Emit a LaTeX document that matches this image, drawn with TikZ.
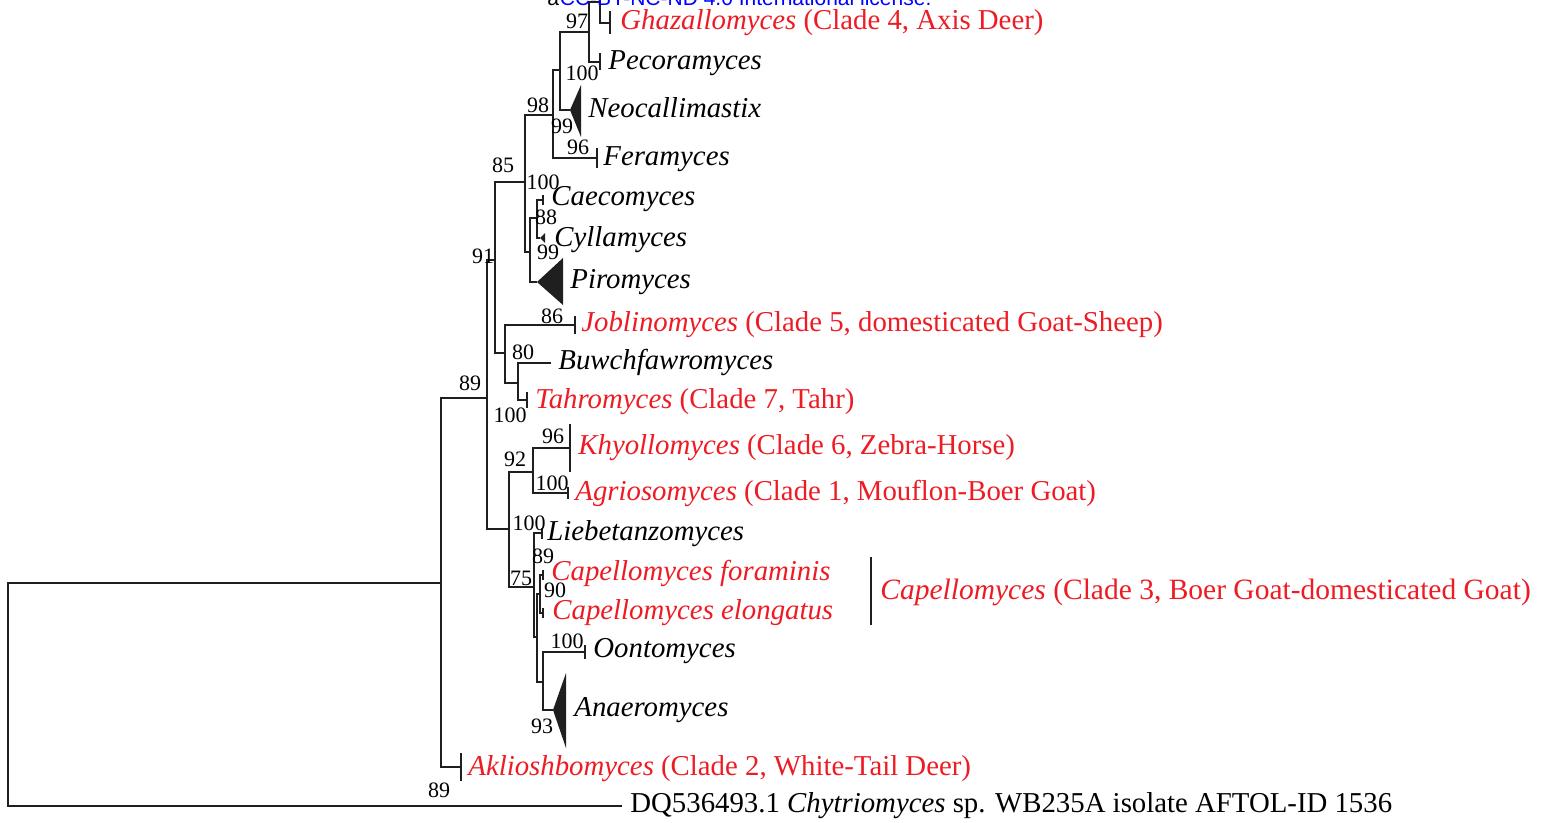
\documentclass[tikz,border=0pt]{standalone}
\usepackage{fontspec}
\setmainfont{Liberation Serif}
\newfontfamily\wmfont{Liberation Sans}
\usetikzlibrary{positioning}
\definecolor{cladered}{RGB}{237,28,36}
\definecolor{wmblue}{RGB}{0,0,255}

\begin{document}
\begin{tikzpicture}[x=0.5pt,y=-0.5pt]
	\tikzset{branch/.style={line width=1pt,draw=black!88}}
	\tikzset{clade/.style={fill=black!88}}
	\tikzset{taxon/.style={anchor=base west,inner sep=0pt,font=\fontsize{14.4}{16}\selectfont}}
	\tikzset{redtaxon/.style={taxon,text=cladered}}
	\tikzset{boot/.style={inner sep=0pt,font=\fontsize{11}{12}\selectfont}}
	\useasboundingbox (0,0) rectangle (1542,823);
	% internal nodes
	\coordinate (r) at (8,694);
	\coordinate (nA) at (441,583);
	\coordinate (nB) at (487,398);
	\coordinate (nC) at (495,260);
	\coordinate (nD) at (525,182);
	\coordinate (nE) at (553,115);
	\coordinate (nF) at (560,70);
	\coordinate (nG) at (589,32);
	\coordinate (nH) at (600,2);
	\coordinate (nP) at (530,252);
	\coordinate (nQ) at (537,218);
	\coordinate (nJ) at (505,353);
	\coordinate (nK) at (518,383);
	\coordinate (nL) at (509,529);
	\coordinate (nM) at (533,472);
	\coordinate (nN) at (534,587);
	\coordinate (nO) at (537,637);
	\coordinate (nS) at (540,594);
	\coordinate (nT) at (543,682);
	% tips
	\coordinate (cTop) at (600,-1);
	\coordinate (tGha) at (610,23);
	\coordinate (tPec) at (600,62);
	\coordinate (tNeo) at (570,110);
	\coordinate (tFer) at (597,158);
	\coordinate (tCae) at (543,200);
	\coordinate (tCyl) at (540,238);
	\coordinate (tPir) at (537,282);
	\coordinate (tJob) at (575,325);
	\coordinate (tBuw) at (551,363);
	\coordinate (tTah) at (527,400);
	\coordinate (tKhy) at (570,448);
	\coordinate (tAgr) at (568,493);
	\coordinate (tLie) at (542,533);
	\coordinate (tCfo) at (543,575);
	\coordinate (tCel) at (543,613);
	\coordinate (tOon) at (585,652);
	\coordinate (tAna) at (553,710);
	\coordinate (tAkl) at (461,767);
	\coordinate (tOut) at (622,806);
	% branches
	\foreach \p/\c in {r/nA,r/tOut,nA/nB,nA/tAkl,nB/nC,nB/nL,nC/nD,nC/nJ,
		nD/nE,nD/nP,nE/nF,nE/tFer,nF/nG,nF/tNeo,nG/nH,nG/tPec,nH/cTop,nH/tGha,
		nP/nQ,nP/tPir,nQ/tCae,nQ/tCyl,nJ/tJob,nJ/nK,nK/tBuw,nK/tTah,
		nL/nM,nL/nN,nM/tKhy,nM/tAgr,nN/tLie,nN/nO,nO/nS,nO/nT,
		nS/tCfo,nS/tCel,nT/tOon,nT/tAna}
		\draw[branch] (\p) |- (\c);
	\foreach \t/\h in {tGha/11.5,tPec/8.5,tFer/10,tCae/5,tJob/9,tTah/8,tKhy/24,
		tAgr/6,tLie/5.5,tCfo/5,tCel/5,tOon/7,tAkl/14}
		\draw[branch] (\t) ++(0,-\h) -- ++(0,2*\h);
	% collapsed clades
	\fill[clade] (tNeo) -- ++(11,-25) -- ++(0,52) -- cycle;
	\fill[clade] (tCyl) -- ++(5,-5) -- ++(0,10) -- cycle;
	\fill[clade] (tPir) -- ++(26,-24) -- ++(0,47) -- cycle;
	\fill[clade] (tAna) -- ++(13,-37) -- ++(0,75) -- cycle;
	% taxa
	\node[redtaxon] (lGha) at (620,29.5) {\textit{Ghazallomyces} (Clade 4, Axis Deer)};
	\node[taxon] (lPec) at (608,69.5) {\textit{Pecoramyces}};
	\node[taxon] (lNeo) at (588,117.5) {\textit{Neocallimastix}};
	\node[taxon] (lFer) at (603,165.5) {\textit{Feramyces}};
	\node[taxon] (lCae) at (551,205.5) {\textit{Caecomyces}};
	\node[taxon] (lCyl) at (554,246.5) {\textit{Cyllamyces}};
	\node[taxon] (lPir) at (570,288.5) {\textit{Piromyces}};
	\node[redtaxon] (lJob) at (581,331.5) {\textit{Joblinomyces} (Clade 5, domesticated Goat-Sheep)};
	\node[taxon] (lBuw) at (558,369.5) {\textit{Buwchfawromyces}};
	\node[redtaxon] (lTah) at (535,408.5) {\textit{Tahromyces} (Clade 7, Tahr)};
	\node[redtaxon] (lKhy) at (578,454.5) {\textit{Khyollomyces} (Clade 6, Zebra-Horse)};
	\node[redtaxon] (lAgr) at (575,500.5) {\textit{Agriosomyces} (Clade 1, Mouflon-Boer Goat)};
	\node[taxon] (lLie) at (547,540.5) {\textit{Liebetanzomyces}};
	\node[redtaxon] (lCfo) at (551,580.5) {\textit{Capellomyces foraminis}};
	\node[redtaxon] (lCel) at (552,619.5) {\textit{Capellomyces elongatus}};
	\node[taxon] (lOon) at (593,657.5) {\textit{Oontomyces}};
	\node[taxon] (lAna) at (574,716.5) {\textit{Anaeromyces}};
	\node[redtaxon] (lAkl) at (468,775.5) {\textit{Aklioshbomyces} (Clade 2, White-Tail Deer)};
	\node[taxon] (lOut) at (630,812.5) {DQ536493.1 \textit{Chytriomyces} sp. WB235A isolate AFTOL-ID 1536};
	% bracket
	\coordinate (bTop) at (871,557);
	\coordinate (bBot) at (871,625);
	\draw[branch] (bTop) -- (bBot);
	\node[redtaxon,font=\fontsize{14.75}{17}\selectfont] (lCap) at (880,599.5) {\textit{Capellomyces} (Clade 3, Boer Goat-domesticated Goat)};
	% bootstrap values
	\node[boot] (b1) at (577,21) {97};
	\node[boot] (b2) at (582,73) {100};
	\node[boot] (b3) at (538,105) {98};
	\node[boot] (b4) at (562,126) {99};
	\node[boot] (b5) at (578,147) {96};
	\node[boot] (b6) at (503,165) {85};
	\node[boot] (b7) at (543,182) {100};
	\node[boot] (b8) at (546,217) {88};
	\node[boot] (b9) at (548,252) {99};
	\node[boot] (b10) at (483,256) {91};
	\node[boot] (b11) at (552,316) {86};
	\node[boot] (b12) at (523,352) {80};
	\node[boot] (b13) at (470,383) {89};
	\node[boot] (b14) at (510,415) {100};
	\node[boot] (b15) at (553,436) {96};
	\node[boot] (b16) at (515,459) {92};
	\node[boot] (b17) at (552,483) {100};
	\node[boot] (b18) at (529,523) {100};
	\node[boot] (b19) at (543,556) {89};
	\node[boot] (b20) at (521,578) {75};
	\node[boot] (b21) at (555,590) {90};
	\node[boot] (b22) at (567,641) {100};
	\node[boot] (b23) at (542,726) {93};
	\node[boot] (b24) at (439,790) {89};
	% licence line cut at the top
	\node[anchor=base west,inner sep=0pt,font=\wmfont\fontsize{10.5}{12}\selectfont] (wmA) at (547,6) {a};
	\node[anchor=base west,inner sep=0pt,text=wmblue,font=\wmfont\fontsize{10.5}{12}\selectfont] (wmLic) at (wmA.base east) {CC-BY-NC-ND 4.0 International license.};
\end{tikzpicture}
\end{document}
